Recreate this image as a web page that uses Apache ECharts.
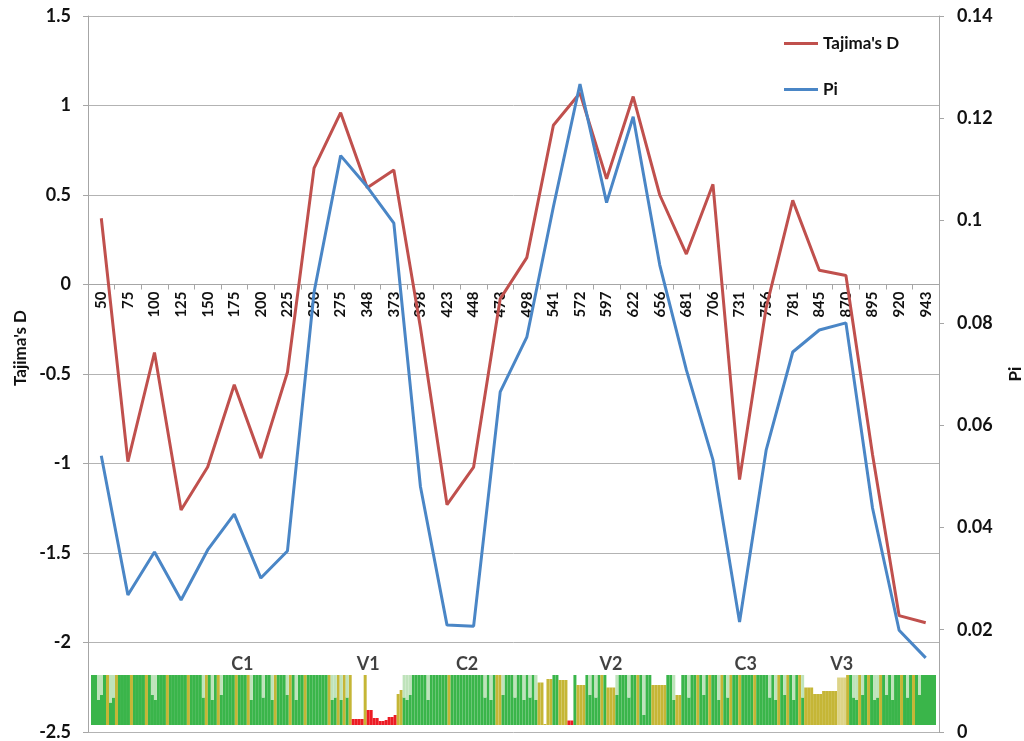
<!DOCTYPE html>
<html>
<head>
<meta charset="utf-8">
<script src="https://cdn.jsdelivr.net/npm/echarts@6/dist/echarts.min.js"></script>
<style>
html,body{margin:0;padding:0;background:#fff;}
#chart{width:1024px;height:741px;}
</style>
</head>
<body>
<div id="chart"></div>
<script>
// ---- main chart data ----
const categories = ['50','75','100','125','150','175','200','225','250','275','348','373','398','423','448','473','498','541','572','597','622','656','681','706','731','756','781','845','870','895','920','943'];
const tajimaD = [0.37,-0.99,-0.38,-1.26,-1.02,-0.56,-0.97,-0.49,0.65,0.96,0.54,0.64,-0.24,-1.23,-1.02,-0.08,0.15,0.89,1.07,0.59,1.05,0.5,0.17,0.56,-1.09,-0.13,0.47,0.08,0.05,-0.95,-1.85,-1.89];
const piValues = [0.054,0.0268,0.0352,0.0258,0.0356,0.0426,0.0301,0.0354,0.086,0.1127,0.1066,0.0995,0.048,0.0209,0.0207,0.0665,0.0772,0.1027,0.1267,0.1035,0.1203,0.0913,0.0708,0.0532,0.0215,0.0551,0.0743,0.0786,0.080,0.0438,0.0199,0.0145];
const leftTicks = {min:-2.5, max:1.5, interval:0.5};
const rightTicks = {min:0, max:0.14, interval:0.02};

// ---- conservation strip data (alignment columns) ----
const STRIP_COLS = 282;
const oliveLines = [5,8,13,18,25,32,38,42,48,52,61,66,71,79,82,84,86,119,135,136,170,182,202,206,210,213,216,221,229,232,236,252,256,259,263,270,274];
const notchLines = [[2,0.5],[3,0.6],[6,0.45],[7,0.55],[20,0.6],[21,0.5],[37,0.55],[40,0.5],[43,0.6],[53,0.5],[57,0.55],[60,0.5],[65,0.6],[68,0.5],
  [80,0.5],[81,0.55],[83,0.5],[85,0.55],
  [104,0.55],[105,0.5],[106,0.6],[112,0.5],[131,0.55],[133,0.5],[137,0.6],[141,0.55],[144,0.5],[146,0.55],[148,0.5],
  [166,0.6],[168,0.55],[175,0.6],[179,0.55],[184,0.2],[194,0.5],[199,0.55],[204,0.6],[209,0.5],[212,0.55],
  [226,0.55],[228,0.5],[231,0.6],[234,0.5],[237,0.55],
  [254,0.55],[255,0.5],[257,0.6],[261,0.5],[262,0.55],[265,0.6],[267,0.5],[272,0.55],[276,0.6]];
// [startCol, endCol, height, colour class]
const regionSegments = [
  [87,90,0.12,'red'],[91,91,1.0,'olive'],[92,93,0.3,'red'],[94,95,0.14,'red'],[96,97,0.08,'red'],[98,98,0.1,'red'],[99,100,0.16,'red'],[101,101,0.2,'red'],[102,102,0.62,'olive'],[103,103,0.7,'olive'],
  [149,150,0.85,'olive'],[151,151,0.02,'olive'],[152,153,0.92,'olive'],[154,155,1.0,'green'],[156,158,0.9,'olive'],[159,160,0.09,'red'],[161,161,1.0,'green'],[162,164,0.8,'olive'],[172,174,0.75,'olive'],[187,191,0.8,'olive'],[195,196,0.6,'olive'],
  [238,240,0.75,'olive'],[241,243,0.62,'olive'],[244,248,0.68,'olive'],[249,251,0.95,'paleOlive']
];
const regionLabels = [['C1',50],['V1',92],['C2',125],['V2',173],['C3',218],['V3',250]];

const stripColours = {green:'#3ab54a', olive:'#c5b636', red:'#ec1c24', pale:'#bfe3bb', paleOlive:'#ddd488'};

// build strip series
const stripCats = [];
const stripMain = [];
const stripTop = [];
for (let i = 0; i < STRIP_COLS; i++) {
  stripCats.push(String(i));
  stripMain.push({value:1, itemStyle:{color:stripColours.green}});
  stripTop.push({value:0, itemStyle:{color:stripColours.pale}});
}
oliveLines.forEach(c => { stripMain[c].itemStyle.color = stripColours.olive; });
notchLines.forEach(([c,h]) => { stripMain[c].value = h; stripTop[c].value = 1 - h; });
regionSegments.forEach(([s,e,h,k]) => {
  for (let c = s; c <= e; c++) {
    stripMain[c] = {value:h, itemStyle:{color:stripColours[k]}};
    stripTop[c] = {value:0, itemStyle:{color:'rgba(0,0,0,0)'}};
  }
});

const FONT = 'Lato';
const GRID_TOP = 16, GRID_BOTTOM_Y = 732;
// offset of the category axis so that it sits on Tajima's D = 0
const zeroOffset = -(GRID_BOTTOM_Y - GRID_TOP) * (0 - leftTicks.min) / (leftTicks.max - leftTicks.min);

const chart = echarts.init(document.getElementById('chart'), null, {renderer:'canvas'});
chart.setOption({
  backgroundColor:'#ffffff',
  animation:false,
  textStyle:{fontFamily:FONT},
  grid:[
    {left:88, right:85, top:GRID_TOP, bottom:741 - GRID_BOTTOM_Y, containLabel:false, outerBoundsMode:'none'},
    {left:91, right:88, top:662.5, height:62.5, containLabel:false, outerBoundsMode:'none'}
  ],
  legend:{
    data:[{name:"Tajima's D", icon:'rect'},{name:'Pi', icon:'rect'}],
    orient:'vertical',
    left:779, top:30,
    itemWidth:34, itemHeight:3, itemGap:29,
    textStyle:{fontFamily:FONT, fontWeight:'bold', fontSize:17, color:'#111'}
  },
  graphic:[{
    type:'text', rotation:Math.PI/2, x:21, y:348,
    style:{text:"Tajima's D", font:'bold 17px Lato', fill:'#111', align:'center', verticalAlign:'middle'}
  }],
  xAxis:[
    {type:'category', gridIndex:0, data:categories, boundaryGap:true, position:'bottom', offset:zeroOffset,
     axisLine:{onZero:false, lineStyle:{color:'#a6a6a6', width:1}},
     axisTick:{show:true, alignWithLabel:false, length:5, lineStyle:{color:'#a6a6a6'}},
     axisLabel:{rotate:90, margin:7, fontFamily:FONT, fontWeight:'bold', fontSize:15, color:'#111', interval:0},
     splitLine:{show:false}, z:5},
    {type:'category', gridIndex:1, data:stripCats, boundaryGap:true, show:false}
  ],
  yAxis:[
    {type:'value', gridIndex:0, min:leftTicks.min, max:leftTicks.max, interval:leftTicks.interval, position:'left',
     axisLine:{show:true, lineStyle:{color:'#a6a6a6'}},
     axisTick:{show:true, length:5, lineStyle:{color:'#a6a6a6'}},
     axisLabel:{margin:17, fontFamily:FONT, fontWeight:'bold', fontSize:18, color:'#111'},
     splitLine:{show:true, lineStyle:{color:'#b3b3b3', width:1}}},
    {type:'value', gridIndex:0, min:rightTicks.min, max:rightTicks.max, interval:rightTicks.interval, position:'right',
     name:'Pi', nameLocation:'middle', nameGap:68, nameRotate:90,
     nameTextStyle:{fontFamily:FONT, fontWeight:'bold', fontSize:17, color:'#111'},
     axisLine:{show:true, lineStyle:{color:'#a6a6a6'}},
     axisTick:{show:true, length:5, lineStyle:{color:'#a6a6a6'}},
     axisLabel:{margin:18, fontFamily:FONT, fontWeight:'bold', fontSize:18, color:'#111'},
     splitLine:{show:false}},
    {type:'value', gridIndex:1, min:0, max:1.25, show:false}
  ],
  series:[
    {name:'stripMain', type:'bar', xAxisIndex:1, yAxisIndex:2, stack:'strip', data:stripMain, barCategoryGap:'0%', silent:true, z:1},
    {name:'stripTop', type:'bar', xAxisIndex:1, yAxisIndex:2, stack:'strip', data:stripTop, barCategoryGap:'0%', silent:true, z:1},
    {name:'regions', type:'scatter', xAxisIndex:1, yAxisIndex:2, symbolSize:0, clip:false, silent:true,
     data:regionLabels.map(([t,c]) => ({value:[c,1.22], name:t})),
     label:{show:true, formatter:p => p.name, position:'inside', fontFamily:FONT, fontWeight:'bold', fontSize:18, color:'#111'}},
    {name:"Tajima's D", type:'line', xAxisIndex:0, yAxisIndex:0, data:tajimaD, symbol:'none', lineStyle:{color:'#c0504d', width:3}, itemStyle:{color:'#c0504d'}, z:10},
    {name:'Pi', type:'line', xAxisIndex:0, yAxisIndex:1, data:piValues, symbol:'none', lineStyle:{color:'#4a86c6', width:3}, itemStyle:{color:'#4a86c6'}, z:10}
  ]
});
</script>
</body>
</html>
